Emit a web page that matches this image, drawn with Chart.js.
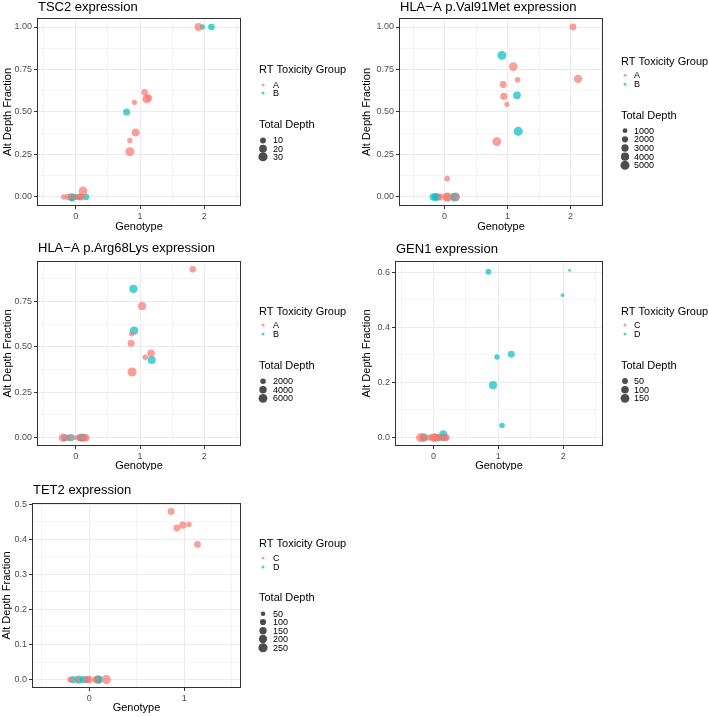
<!DOCTYPE html>
<html>
<head>
<meta charset="utf-8">
<script src="https://cdn.jsdelivr.net/npm/chart.js@4"></script>
<style>
  body { margin: 0; background: #fff; width: 708px; height: 717px; position: relative; overflow: hidden; }
  canvas { position: absolute; }
</style>
</head>
<body>
<canvas id="c1" width="354" height="235" style="left:0;top:0"></canvas>
<canvas id="c2" width="354" height="235" style="left:354px;top:0"></canvas>
<canvas id="c3" width="354" height="235" style="left:0;top:235px"></canvas>
<canvas id="c4" width="354" height="235" style="left:354px;top:235px"></canvas>
<canvas id="c5" width="354" height="247" style="left:0;top:470px"></canvas>
<script>
// ---- data: genotype (jittered as plotted), alt depth fraction, total depth ----
var GROUPS_AB = ['A', 'B'];
var GROUPS_CD = ['C', 'D'];

var TSC2_A_GENO  = [1.91, 1.07, 0.91, 1.10, 1.13, 0.93, 0.84, 0.84, -0.19, -0.12, -0.03, 0.05, 0.11, 0.09];
var TSC2_A_FRAC  = [1.00, 0.616, 0.557, 0.577, 0.583, 0.380, 0.333, 0.266, 0, 0, 0, 0, 0.035, 0];
var TSC2_A_DEPTH = [22, 13, 8, 26, 16, 20, 8, 30, 8, 14, 10, 12, 28, 14];
var TSC2_B_GENO  = [1.97, 2.11, 0.79, -0.07, -0.04, 0.00, 0.06, 0.16, -0.06];
var TSC2_B_FRAC  = [1.00, 1.00, 0.50, 0, 0, 0, 0, 0, -0.01];
var TSC2_B_DEPTH = [8, 14, 17, 18, 12, 10, 12, 12, 10];
var TSC2_DEPTH_BREAKS = [10, 20, 30];

var V91M_A_GENO  = [2.04, 2.12, 1.09, 1.16, 0.93, 0.94, 0.99, 0.83, 0.04, -0.07, 0.03, 0.05, 0.18];
var V91M_A_FRAC  = [1.00, 0.695, 0.767, 0.690, 0.662, 0.592, 0.545, 0.326, 0.108, 0, 0, 0, 0];
var V91M_A_DEPTH = [2500, 4200, 4500, 1500, 2500, 3000, 1200, 4800, 1500, 2500, 3500, 5000, 3000];
var V91M_B_GENO  = [0.91, 1.15, 1.17, -0.18, -0.14, -0.11, 0.14, 0.17];
var V91M_B_FRAC  = [0.833, 0.598, 0.387, 0, 0, 0, 0, 0];
var V91M_B_DEPTH = [5000, 3500, 5200, 3000, 3500, 2500, 3000, 5000];
var V91M_DEPTH_BREAKS = [1000, 2000, 3000, 4000, 5000];

var R68K_A_GENO  = [1.82, 1.03, 0.87, 0.86, 1.17, 1.08, 0.875, -0.20, -0.02, 0.05, 0.13, 0.16, -0.12];
var R68K_A_FRAC  = [0.928, 0.725, 0.573, 0.520, 0.465, 0.443, 0.362, 0, 0, 0, 0, 0, 0];
var R68K_A_DEPTH = [3000, 5000, 2000, 3500, 4000, 2000, 6500, 5500, 1500, 3000, 4000, 3500, 2500];
var R68K_B_GENO  = [0.896, 0.906, 1.18, -0.17, -0.08, 0.07, 0.10];
var R68K_B_FRAC  = [0.820, 0.590, 0.428, 0, 0, 0, 0];
var R68K_B_DEPTH = [5000, 5000, 5000, 3500, 4000, 3500, 5000];
var R68K_DEPTH_BREAKS = [2000, 4000, 6000];

var GEN1_C_GENO  = [-0.20, -0.16, -0.07, -0.01, 0.02, 0.04, 0.07, 0.12, 0.18, 0.20];
var GEN1_C_FRAC  = [0, 0, 0, 0, 0, 0, 0, 0, 0, 0];
var GEN1_C_DEPTH = [150, 80, 60, 100, 150, 90, 70, 60, 90, 60];
var GEN1_D_GENO  = [0.846, 2.10, 1.99, 0.98, 1.20, 0.918, 1.057, -0.15, 0.09, 0.15, 0.15];
var GEN1_D_FRAC  = [0.601, 0.606, 0.516, 0.292, 0.302, 0.190, 0.044, 0, 0, 0, 0.011];
var GEN1_D_DEPTH = [50, 8, 15, 40, 80, 120, 45, 140, 80, 100, 140];
var GEN1_DEPTH_BREAKS = [50, 100, 150];

var TET2_C_GENO  = [0.863, 0.923, 0.986, 1.05, 1.14, -0.20, -0.12, 0.00, 0.07, 0.18, -0.03];
var TET2_C_FRAC  = [0.479, 0.432, 0.440, 0.442, 0.385, 0, 0, 0, 0, 0, 0];
var TET2_C_DEPTH = [130, 130, 150, 70, 120, 100, 80, 160, 140, 260, 120];
var TET2_D_GENO  = [-0.17, -0.11, -0.06, -0.02, 0.09, 0.10];
var TET2_D_FRAC  = [0, 0, 0, 0, 0, 0];
var TET2_D_DEPTH = [150, 200, 150, 120, 200, 180];
var TET2_DEPTH_BREAKS = [50, 100, 150, 200, 250];

// tick values and labels
var X_TICKS_012 = [0, 1, 2];
var X_LABELS_012 = ['0', '1', '2'];
var X_TICKS_01 = [0, 1];
var X_LABELS_01 = ['0', '1'];
var Y_TICKS_Q = [0, 0.25, 0.5, 0.75, 1];
var Y_LABELS_Q = ['0.00', '0.25', '0.50', '0.75', '1.00'];
var Y_TICKS_Q3 = [0, 0.25, 0.5, 0.75];
var Y_LABELS_Q3 = ['0.00', '0.25', '0.50', '0.75'];
var Y_TICKS_GEN1 = [0, 0.2, 0.4, 0.6];
var Y_LABELS_GEN1 = ['0.0', '0.2', '0.4', '0.6'];
var Y_TICKS_TET2 = [0, 0.1, 0.2, 0.3, 0.4, 0.5];
var Y_LABELS_TET2 = ['0.0', '0.1', '0.2', '0.3', '0.4', '0.5'];

var FONT = '"Liberation Sans", Arial, Helvetica, sans-serif';
var FILL = ['rgba(248,118,109,0.7)', 'rgba(0,191,196,0.7)'];
var KEY_FILL = 'rgba(0,0,0,0.7)';

// layout of each panel (canvas pixels)
var PANELS = [
  { id: 'c1', title: 'TSC2 expression', groups: GROUPS_AB,
    series: [[TSC2_A_GENO, TSC2_A_FRAC, TSC2_A_DEPTH], [TSC2_B_GENO, TSC2_B_FRAC, TSC2_B_DEPTH]],
    breaks: TSC2_DEPTH_BREAKS, depthDomain: [2, 32],
    xt: X_TICKS_012, xl: X_LABELS_012, yt: Y_TICKS_Q, yl: Y_LABELS_Q,
    xr: [-0.605, 2.57], yr: [-0.053, 1.053],
    area: { l: 37, t: 18, r: 241, b: 206 }, titleY: 7, yTitleX: 8, xTitleY: 227,
    lg: { x: 259, colTitleY: 70, colY: [85, 93], sizeTitleY: 125, sizeY: [140.5, 148.7, 156.7], keyX: 263, labelX: 273 } },
  { id: 'c2', title: 'HLA\u2212A p.Val91Met expression', groups: GROUPS_AB,
    series: [[V91M_A_GENO, V91M_A_FRAC, V91M_A_DEPTH], [V91M_B_GENO, V91M_B_FRAC, V91M_B_DEPTH]],
    breaks: V91M_DEPTH_BREAKS, depthDomain: [200, 5600],
    xt: X_TICKS_012, xl: X_LABELS_012, yt: Y_TICKS_Q, yl: Y_LABELS_Q,
    xr: [-0.725, 2.517], yr: [-0.053, 1.053],
    area: { l: 45, t: 18, r: 249, b: 206 }, titleY: 7, yTitleX: 13, xTitleY: 227,
    lg: { x: 267, colTitleY: 62, colY: [75.3, 84.3], sizeTitleY: 116, sizeY: [130.7, 139.3, 148, 156.7, 165.3], keyX: 271, labelX: 280 } },
  { id: 'c3', title: 'HLA\u2212A p.Arg68Lys expression', groups: GROUPS_AB,
    series: [[R68K_A_GENO, R68K_A_FRAC, R68K_A_DEPTH], [R68K_B_GENO, R68K_B_FRAC, R68K_B_DEPTH]],
    breaks: R68K_DEPTH_BREAKS, depthDomain: [500, 7000],
    xt: X_TICKS_012, xl: X_LABELS_012, yt: Y_TICKS_Q3, yl: Y_LABELS_Q3,
    xr: [-0.605, 2.57], yr: [-0.046, 0.974],
    area: { l: 37, t: 26, r: 241, b: 211 }, titleY: 13, yTitleX: 8, xTitleY: 231,
    lg: { x: 259, colTitleY: 76.7, colY: [90, 99], sizeTitleY: 131, sizeY: [146.3, 154.7, 163.3], keyX: 263, labelX: 273 } },
  { id: 'c4', title: 'GEN1 expression', groups: GROUPS_CD,
    series: [[GEN1_C_GENO, GEN1_C_FRAC, GEN1_C_DEPTH], [GEN1_D_GENO, GEN1_D_FRAC, GEN1_D_DEPTH]],
    breaks: GEN1_DEPTH_BREAKS, depthDomain: [5, 175],
    xt: X_TICKS_012, xl: X_LABELS_012, yt: Y_TICKS_GEN1, yl: Y_LABELS_GEN1,
    xr: [-0.594, 2.615], yr: [-0.0305, 0.64],
    area: { l: 41, t: 26, r: 249, b: 211 }, titleY: 14, yTitleX: 13, xTitleY: 231,
    lg: { x: 267, colTitleY: 76.7, colY: [90, 99], sizeTitleY: 131, sizeY: [146, 154.7, 163.3], keyX: 271, labelX: 280 } },
  { id: 'c5', title: 'TET2 expression', groups: GROUPS_CD,
    series: [[TET2_C_GENO, TET2_C_FRAC, TET2_C_DEPTH], [TET2_D_GENO, TET2_D_FRAC, TET2_D_DEPTH]],
    breaks: TET2_DEPTH_BREAKS, depthDomain: [20, 270],
    xt: X_TICKS_01, xl: X_LABELS_01, yt: Y_TICKS_TET2, yl: Y_LABELS_TET2,
    xr: [-0.602, 1.598], yr: [-0.024, 0.503],
    area: { l: 32, t: 33, r: 241, b: 218 }, titleY: 20, yTitleX: 7, xTitleY: 238,
    lg: { x: 259, colTitleY: 74, colY: [88, 97], sizeTitleY: 128.3, sizeY: [143.7, 152, 160.7, 169, 177.7], keyX: 263, labelX: 273 } }
];

// majors plus ggplot-style minor lines halfway between them
function gridTicks(majors, min, max) {
  var step = majors[1] - majors[0], out = [];
  for (var v = majors[0] - step / 2; v <= max + 1e-9; v += step / 2) {
    if (v < min - 1e-9) continue;
    var r = Math.round(v * 1000) / 1000;
    out.push({ value: r, mj: majors.indexOf(r) >= 0 });
  }
  return out;
}

function axis(ticks, labels, range, fitFn) {
  return {
    type: 'linear', min: range[0], max: range[1],
    afterBuildTicks: function (s) { s.ticks = gridTicks(ticks, s.min, s.max); },
    afterFit: fitFn,
    border: { display: false },
    grid: {
      color: function (c) { return c.tick && c.tick.mj ? '#ebebeb' : '#f4f4f4'; },
      tickColor: function (c) { return c.tick && c.tick.mj ? '#333333' : 'rgba(0,0,0,0)'; },
      tickLength: 3, lineWidth: 1
    },
    ticks: {
      autoSkip: false, maxRotation: 0, padding: 2, color: '#4d4d4d',
      font: { family: FONT, size: 9 },
      callback: function (v) { var i = ticks.indexOf(Math.round(v * 1000) / 1000); return i >= 0 ? labels[i] : ''; }
    }
  };
}

function framePlugin(p, rad) {
  return {
    id: 'ggFrame',
    afterDraw: function (chart) {
      var c = chart.ctx, a = chart.chartArea, L = p.lg;
      c.save();
      c.strokeStyle = '#333333'; c.lineWidth = 1;
      c.strokeRect(Math.round(a.left) + 0.5, Math.round(a.top) + 0.5, Math.round(a.right - a.left) - 1, Math.round(a.bottom - a.top) - 1);
      c.fillStyle = '#000'; c.textBaseline = 'middle'; c.textAlign = 'left';
      c.font = '13px ' + FONT;
      c.fillText(p.title, a.left + 1, p.titleY);
      c.font = '11px ' + FONT; c.textAlign = 'center';
      c.fillText('Genotype', (a.left + a.right) / 2, p.xTitleY);
      c.save();
      c.translate(p.yTitleX, (a.top + a.bottom) / 2); c.rotate(-Math.PI / 2);
      c.fillText('Alt Depth Fraction', 0, 0);
      c.restore();
      // legends
      c.textAlign = 'left';
      c.font = '11px ' + FONT;
      c.fillText('RT Toxicity Group', L.x, L.colTitleY);
      c.fillText('Total Depth', L.x, L.sizeTitleY);
      c.font = '9px ' + FONT;
      p.groups.forEach(function (g, i) {
        c.fillStyle = FILL[i];
        c.beginPath(); c.arc(L.keyX, L.colY[i], 1.5, 0, Math.PI * 2); c.fill();
        c.fillStyle = '#000';
        c.fillText(g, L.labelX, L.colY[i] + 0.5);
      });
      p.breaks.forEach(function (b, i) {
        c.fillStyle = KEY_FILL;
        c.beginPath(); c.arc(L.keyX, L.sizeY[i], rad(b), 0, Math.PI * 2); c.fill();
        c.fillStyle = '#000';
        c.fillText(String(b), L.labelX, L.sizeY[i] + 0.5);
      });
      c.restore();
    }
  };
}

function makePanel(p) {
  var el = document.getElementById(p.id);
  var W = el.width, H = el.height;
  var lo = p.depthDomain[0], hi = p.depthDomain[1];
  var rad = function (d) {
    var t = Math.max(0, Math.min(1, (d - lo) / (hi - lo)));
    return 1.0 + 3.7 * Math.sqrt(t);
  };
  var ptRadius = function (ctx) { return ctx.raw ? rad(ctx.raw.d) : 2; };
  new Chart(el.getContext('2d'), {
    type: 'scatter',
    data: {
      datasets: p.series.map(function (s, i) {
        return {
          label: p.groups[i],
          data: s[0].map(function (x, k) { return { x: x, y: s[1][k], d: s[2][k] }; }),
          backgroundColor: FILL[i], borderWidth: 0,
          pointRadius: ptRadius, pointHoverRadius: ptRadius
        };
      })
    },
    options: {
      responsive: false, animation: false,
      layout: { padding: { left: 0, top: p.area.t, right: W - p.area.r, bottom: 0 } },
      plugins: { legend: { display: false }, tooltip: { enabled: false }, title: { display: false } },
      scales: {
        x: axis(p.xt, p.xl, p.xr, function (s) { s.height = H - p.area.b; }),
        y: axis(p.yt, p.yl, p.yr, function (s) { s.width = p.area.l; })
      }
    },
    plugins: [framePlugin(p, rad)]
  });
}

PANELS.forEach(makePanel);
</script>
</body>
</html>
